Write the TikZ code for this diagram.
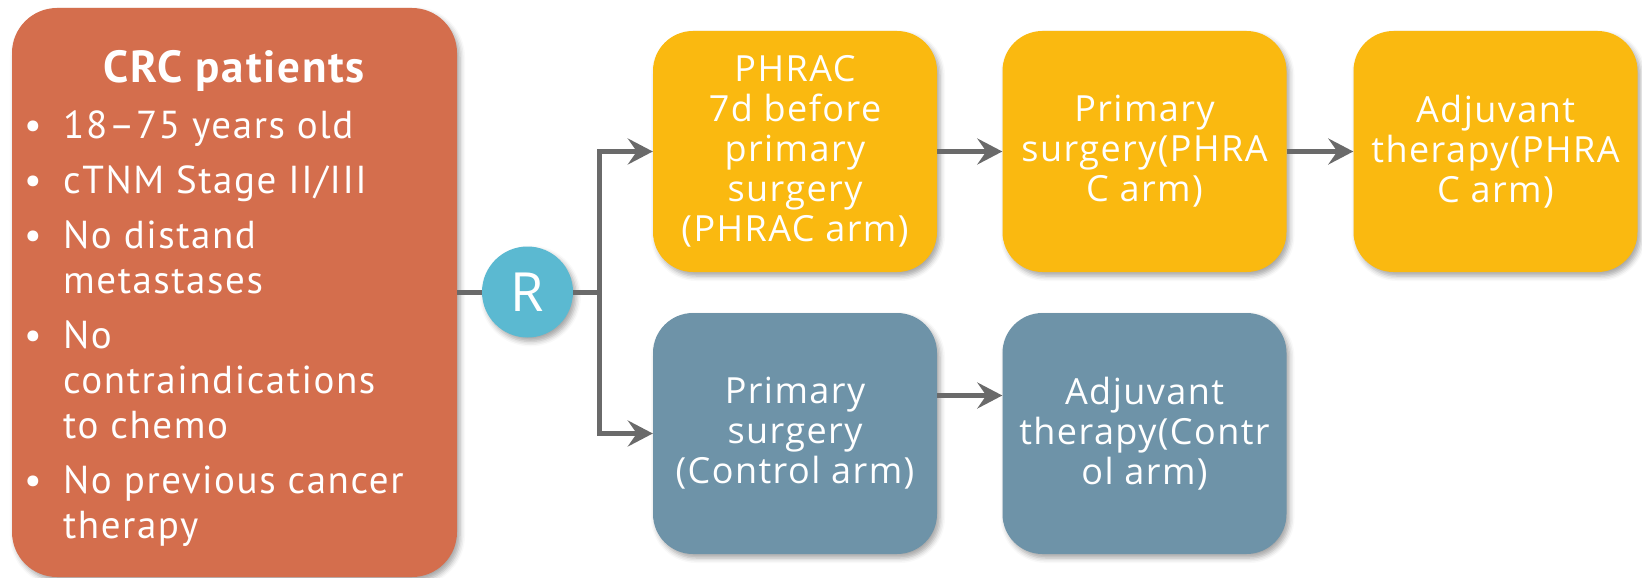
\documentclass[tikz,border=0pt]{standalone}
\usepackage{fontspec}
\newfontfamily\ptsans[LetterSpace=4]{PT Sans}
\newfontfamily\opensans[LetterSpace=4]{Open Sans}
\newfontfamily\opensansR{Open Sans}
\usetikzlibrary{arrows.meta,shadows.blur}
\definecolor{crcred}{HTML}{D46E4D}
\definecolor{phyellow}{HTML}{FAB910}
\definecolor{ctblue}{HTML}{6E93A8}
\definecolor{rcyan}{HTML}{5BB9D1}
\definecolor{arrgray}{HTML}{6A6A6A}
\tikzset{
  shad/.style={blur shadow={shadow xshift=3pt,shadow yshift=-4pt,shadow blur radius=5pt,shadow opacity=35}},
  bigbox/.style={shape=rectangle,rounded corners=45pt,fill=crcred,shad,minimum width=445pt,minimum height=569pt,inner sep=0pt},
  armbox/.style={shape=rectangle,rounded corners=40pt,shad,minimum width=284pt,minimum height=241pt,inner sep=0pt,
    text=white,align=center,font={\opensans\fontsize{36}{40}\selectfont}},
  ybox/.style={armbox,fill=phyellow},
  bbox/.style={armbox,fill=ctblue},
  rcirc/.style={shape=circle,fill=rcyan,shad,minimum size=91pt,inner sep=0pt,text=white,font={\opensansR\fontsize{54}{60}\selectfont}},
  conn/.style={draw=arrgray,line width=5pt},
  arr/.style={conn,-{Stealth[length=25pt,width=26pt,inset=9pt]}},
  ttl/.style={text=white,anchor=base,inner sep=0pt,font={\ptsans\bfseries\fontsize{45}{50}\selectfont}},
  bul/.style={text=white,anchor=base west,inner sep=0pt,font={\ptsans\fontsize{39}{45}\selectfont}},
}
\begin{document}
\begin{tikzpicture}[x=1pt,y=-1pt]
\useasboundingbox (0,0) rectangle (1642,578);
% left box
\node[bigbox] (L) at (234.5,292.5) {};
\node[ttl] (t0) at (234,82) {CRC patients};
\node[bul] (d1) at (24,138) {•};
\node[bul] (l1) at (63,138) {18–75 years old};
\node[bul] (d2) at (24,193) {•};
\node[bul] (l2) at (63,193) {cTNM Stage II/III};
\node[bul] (d3) at (24,248) {•};
\node[bul] (l3) at (63,248) {No distand};
\node[bul] (l3b) at (63,293) {metastases};
\node[bul] (d4) at (24,348) {•};
\node[bul] (l4) at (63,348) {No};
\node[bul] (l4b) at (63,393) {contraindications};
\node[bul] (l4c) at (63,438) {to chemo};
\node[bul] (d5) at (24,493) {•};
\node[bul] (l5) at (63,493) {No previous cancer};
\node[bul] (l5b) at (63,538) {therapy};
% R circle
\node[rcirc] (R) at (527.5,292) {R};
% arm boxes
\node[ybox] (y1) at (795,151.5) {PHRAC\\7d before\\primary\\surgery\\(PHRAC arm)};
\node[ybox] (y2) at (1144.5,151.5) {Primary\\surgery(PHRA\\C arm)};
\node[ybox] (y3) at (1495.5,151.5) {Adjuvant\\therapy(PHRA\\C arm)};
\node[bbox] (c1) at (795,433.5) {Primary\\surgery\\(Control arm)};
\node[bbox] (c2) at (1144.5,433.5) {Adjuvant\\therapy(Contr\\ol arm)};
% connectors
\coordinate (fork) at (599,292);
\draw[conn] (L.east |- R) -- (R);
\draw[conn] (R) -- (fork);
\draw[arr] (fork) |- (y1.west);
\draw[arr] (fork) |- (c1.west);
\draw[arr] (y1) -- (y2);
\draw[arr] (y2) -- (y3);
\draw[arr] ([yshift=38pt]c1.east) -- ([yshift=38pt]c2.west);
\end{tikzpicture}
\end{document}
